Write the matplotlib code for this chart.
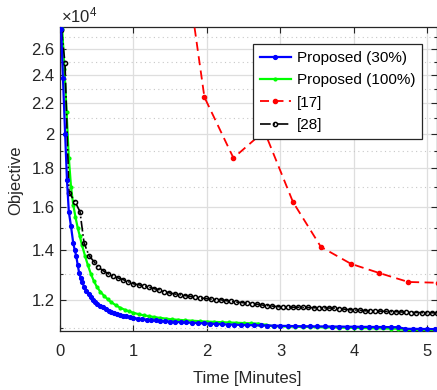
import matplotlib
matplotlib.use("Agg")
import matplotlib.pyplot as plt
import numpy as np
from matplotlib.ticker import FixedLocator, FixedFormatter, NullFormatter

plt.rcParams['font.family'] = ['Liberation Sans', 'DejaVu Sans']
plt.rcParams['mathtext.default'] = 'regular'

# Proposed (30%)
t_p30 = [0.015, 0.04, 0.07, 0.095, 0.12, 0.15, 0.18, 0.20, 0.22, 0.24, 0.26, 0.28, 0.30,
         0.33, 0.36, 0.39, 0.42, 0.45, 0.48, 0.51, 0.54, 0.58, 0.62, 0.66, 0.70, 0.74,
         0.78, 0.82, 0.86, 0.90, 0.95, 1.00, 1.06, 1.12, 1.18, 1.24, 1.30, 1.36, 1.43,
         1.50, 1.57, 1.64, 1.72, 1.80, 1.88, 1.96, 2.04, 2.12, 2.20, 2.28, 2.37, 2.46,
         2.55, 2.64, 2.73, 2.82, 2.91, 3.00, 3.10, 3.20, 3.30, 3.40, 3.50, 3.60, 3.70,
         3.80, 3.90, 4.00, 4.10, 4.20, 4.30, 4.40, 4.50, 4.60, 4.70, 4.80, 4.90, 5.00,
         5.10, 5.20]
obj_p30 = [27700, 23800, 20000, 17350, 15750, 15050, 14300, 14000, 13750, 13380, 13050,
           12850, 12690, 12480, 12330, 12200, 12090, 12000, 11920, 11850, 11790, 11720,
           11660, 11610, 11560, 11520, 11490, 11460, 11430, 11400, 11375, 11350, 11325,
           11305, 11290, 11275, 11260, 11250, 11235, 11220, 11210, 11200, 11190, 11180,
           11170, 11160, 11150, 11140, 11130, 11120, 11115, 11105, 11100, 11095, 11090,
           11085, 11080, 11075, 11070, 11065, 11060, 11060, 11055, 11055, 11050, 11050,
           11045, 11045, 11040, 11040, 11035, 11035, 11030, 11030, 10975, 10970, 10970,
           10965, 10965, 10960]

# Proposed (100%)
t_p100 = [0.03, 0.06, 0.09, 0.12, 0.15, 0.18, 0.21, 0.24, 0.27, 0.30, 0.34, 0.38, 0.42,
          0.46, 0.50, 0.55, 0.60, 0.65, 0.70, 0.76, 0.82, 0.88, 0.94, 1.00, 1.07, 1.14,
          1.21, 1.28, 1.36, 1.44, 1.52, 1.60, 1.70, 1.80, 1.90, 2.00, 2.10, 2.20, 2.30,
          2.40, 2.50, 2.60, 2.70, 2.80, 2.90, 3.00, 3.10, 3.20, 3.30, 3.40, 3.50, 3.60,
          3.70, 3.80, 3.90, 4.00, 4.10, 4.20, 4.30, 4.40, 4.50, 4.60, 4.70, 4.80, 4.90,
          5.00, 5.10, 5.20]
obj_p100 = [27700, 24500, 21400, 18600, 17000, 16100, 15500, 15000, 14600, 14200, 13750,
            13350, 13000, 12720, 12500, 12300, 12150, 12020, 11910, 11800, 11710, 11640,
            11580, 11530, 11480, 11440, 11410, 11380, 11350, 11325, 11300, 11285, 11265,
            11250, 11235, 11220, 11210, 11200, 11190, 11180, 11170, 11160, 11150, 11110,
            11060, 11055, 11050, 11045, 11040, 11035, 11030, 11025, 11020, 11015, 11010,
            11005, 11000, 10995, 10990, 10985, 10980, 10975, 10930, 10925, 10925, 10920,
            10920, 10915]

# [17]
t_17 = [1.575, 1.965, 2.36, 2.78, 3.17, 3.55, 3.96, 4.34, 4.74, 5.14]
obj_17 = [41900, 22430, 18590, 20200, 16230, 14130, 13410, 13040, 12680, 12650]

# [28]
t_28 = [0.02, 0.068, 0.122, 0.204, 0.272, 0.327, 0.395, 0.463, 0.517, 0.585, 0.653,
        0.72, 0.79, 0.86, 0.93, 1.00, 1.07, 1.14, 1.21, 1.28, 1.35, 1.42, 1.49, 1.56,
        1.63, 1.70, 1.77, 1.84, 1.91, 1.98, 2.05, 2.12, 2.19, 2.26, 2.33, 2.40, 2.47,
        2.54, 2.61, 2.68, 2.75, 2.82, 2.89, 2.96, 3.03, 3.10, 3.17, 3.24, 3.31, 3.38,
        3.45, 3.52, 3.59, 3.66, 3.73, 3.80, 3.87, 3.94, 4.01, 4.08, 4.15, 4.22, 4.29,
        4.36, 4.43, 4.50, 4.57, 4.64, 4.71, 4.78, 4.85, 4.92, 4.99, 5.06, 5.13]
obj_28 = [27600, 24900, 16710, 16250, 15750, 14310, 13750, 13500, 13290, 13130, 13010,
          12920, 12840, 12770, 12690, 12610, 12570, 12530, 12480, 12420, 12380, 12300,
          12260, 12220, 12190, 12160, 12130, 12100, 12070, 12050, 12030, 12010, 12000,
          11970, 11940, 11920, 11900, 11880, 11860, 11840, 11810, 11790, 11770, 11750,
          11740, 11740, 11730, 11730, 11720, 11720, 11710, 11710, 11710, 11700, 11700,
          11680, 11660, 11640, 11630, 11620, 11600, 11600, 11590, 11590, 11580, 11570,
          11570, 11560, 11550, 11540, 11540, 11535, 11530, 11530, 11530]

y_major = [12000, 14000, 16000, 18000, 20000, 22000, 24000, 26000]
y_minor = [11000, 13000, 15000, 17000, 19000, 21000, 23000, 25000, 27000]
x_ticks = [0, 1, 2, 3, 4, 5]

fig = plt.figure(figsize=(4.37, 3.90), dpi=100)
ax = fig.add_axes([60 / 437, 1 - 331 / 390, 377 / 437, 304 / 390])

ax.plot(t_p30, obj_p30, '-', color=(0, 0, 1), lw=1.6, marker='.', ms=5.5,
        label='Proposed (30%)', zorder=4)
ax.plot(t_p100, obj_p100, '-', color=(0, 1, 0), lw=1.6, marker='.', ms=4,
        label='Proposed (100%)', zorder=3)
ax.plot(t_17, obj_17, '--', color=(1, 0, 0), lw=1.3, marker='.', ms=6,
        dashes=(5, 3), label='[17]', zorder=3)
ax.plot(t_28, obj_28, '-.', color='k', lw=1.2, marker='o', ms=3, mfc='none',
        mew=1.1, label='[28]', zorder=3)

ax.set_yscale('log')
ax.set_xlim(0, 5.13)
ax.set_ylim(10900, 27850)

ax.yaxis.set_major_locator(FixedLocator(y_major))
ax.yaxis.set_major_formatter(FixedFormatter(['%g' % (v / 1e4) for v in y_major]))
ax.yaxis.set_minor_locator(FixedLocator(y_minor))
ax.yaxis.set_minor_formatter(NullFormatter())
ax.set_xticks(x_ticks)

txt = '#262626'
ax.tick_params(which='both', direction='in', top=True, right=True, labelsize=12,
               colors=txt, width=0.8)
ax.tick_params(axis='x', which='major', pad=9)
ax.tick_params(axis='y', which='major', pad=4)
ax.tick_params(which='major', length=4)
ax.tick_params(which='minor', length=2)
for s in ax.spines.values():
    s.set_color(txt)
    s.set_linewidth(0.9)

ax.grid(which='major', color='#dedede', lw=0.9)
ax.grid(which='minor', axis='y', color='#c8c8c8', lw=0.8, linestyle=(0, (1, 3)))
ax.set_axisbelow(True)

ax.set_xlabel('Time [Minutes]', fontsize=12, color=txt)
ax.set_ylabel('Objective', fontsize=12, color=txt)
ax.xaxis.set_label_coords((247 - 60) / 377, -(378 - 331) / 304)
ax.yaxis.set_label_coords(-(60 - 16) / 377, (331 - 180) / 304)
ax.xaxis.label.set_va('center')
ax.yaxis.label.set_va('center')
fig.text(61 / 437, 1 - 25 / 390, r'$\times10^{4}$', fontsize=12, color=txt,
         ha='left', va='bottom')

leg = ax.legend(loc='upper right', bbox_to_anchor=((422 - 60) / 377, 1 - 17 / 304),
                borderaxespad=0, fontsize=11, frameon=True, fancybox=False,
                handlelength=2.0, labelspacing=0.55, borderpad=0.45,
                handletextpad=0.4, framealpha=1)
leg.get_frame().set_edgecolor('#262626')
leg.get_frame().set_linewidth(0.9)

fig.savefig('out.png', dpi=100)
